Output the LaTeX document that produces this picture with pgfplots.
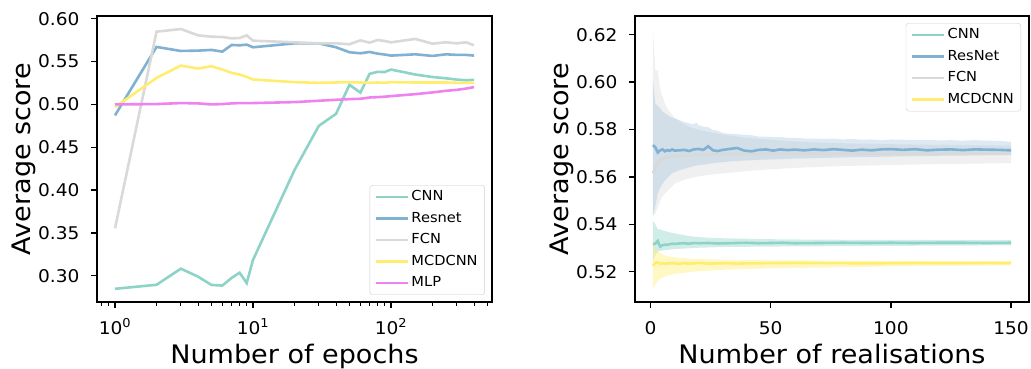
\documentclass[border=0pt]{standalone}
\usepackage{pgfplots}
\pgfplotsset{compat=1.18}
\usepackage{fontspec}
\setmainfont{DejaVu Sans}[FakeStretch=1.06]
\definecolor{cnn}{HTML}{8DD3C7}
\definecolor{resnet}{HTML}{80B1D3}
\definecolor{fcn}{HTML}{D9D9D9}
\definecolor{mcd}{HTML}{FFED6F}
\definecolor{mlp}{HTML}{EE82EE}
\newcommand{\tickfont}{\fontsize{17.5}{20}\selectfont}
\newcommand{\labfont}{\fontsize{25.5}{28}\selectfont}
\newcommand{\legfont}{\fontsize{13.8}{16}\selectfont}
\pgfplotsset{
  mystyle/.style={
    scale only axis,
    /pgf/number format/assume math mode=true,
    axis line style={line width=1.4pt},
    tick align=outside,
    xtick pos=left, ytick pos=left,
    major tick length=6pt, minor tick length=3.5pt,
    every tick/.style={black, line width=1.4pt},
    every minor tick/.style={black, line width=1pt},
    tick label style={font=\tickfont},
    xticklabel style={anchor=base, yshift=-26pt},
    yticklabel style={anchor=east, xshift=-8pt},
    label style={font=\labfont},
    legend cell align=left,
    legend image code/.code={\draw[##1, line width=2.6pt] (0pt,0pt) -- (32pt,0pt);},
    legend style={draw=black!20, rounded corners=3pt, fill=white, fill opacity=0.8, text opacity=1,
      font=\legfont, row sep=4pt, inner xsep=5pt, inner ysep=3pt,
      nodes={inner sep=2pt, text height=10.5pt, text depth=3pt}},
  },
  ln/.style={line width=2.6pt, #1},
}
\begin{document}
\begin{tikzpicture}
\useasboundingbox (0,0) rectangle (1031pt,368pt);
% ---------------- left panel ----------------
\begin{axis}[mystyle,
  at={(97pt,66pt)}, anchor=south west,
  width=395pt, height=286pt,
  xmode=log, xmin=0.7406, xmax=539.5,
  ymin=0.2694, ymax=0.6032,
  xtick={1,10,100},
  xticklabels={10\textsuperscript{0},10\textsuperscript{1},10\textsuperscript{2}},
  minor xtick={0.8,0.9,2,3,4,5,6,7,8,9,20,30,40,50,60,70,80,90,200,300,400,500},
  ytick={0.30,0.35,0.40,0.45,0.50,0.55,0.60},
  yticklabel style={/pgf/number format/fixed,/pgf/number format/fixed zerofill,/pgf/number format/precision=2},
  xlabel={Number of epochs},
  ylabel={Average score},
  xlabel style={at={(axis description cs:0.5,-0.2133)}, anchor=base},
  ylabel style={at={(axis description cs:-0.1671,0.5)}, anchor=base},
  legend style={at={(0.982,0.0245)}, anchor=south east},
]
\addplot[ln=cnn] coordinates {(1,0.2848)(2,0.2895)(3,0.3083)(4,0.2990)(5,0.2893)(6,0.2886)(7,0.2975)(8,0.3036)(9,0.2915)(10,0.3185)(20,0.4235)(30,0.4750)(40,0.4891)(50,0.5229)(60,0.5138)(70,0.5357)(80,0.5380)(90,0.5378)(100,0.5407)(150,0.5349)(200,0.5320)(250,0.5305)(300,0.5290)(350,0.5282)(400,0.5287)};
\addlegendentry{CNN}
\addplot[ln=resnet] coordinates {(1,0.4872)(2,0.5671)(3,0.5624)(4,0.5628)(5,0.5636)(6,0.5616)(7,0.5694)(8,0.5690)(9,0.5698)(10,0.5667)(20,0.5713)(30,0.5713)(40,0.5667)(50,0.5609)(60,0.5597)(70,0.5612)(80,0.5593)(90,0.5582)(100,0.5570)(150,0.5585)(200,0.5566)(250,0.5585)(300,0.5578)(350,0.5578)(400,0.5570)};
\addlegendentry{Resnet}
\addplot[ln=fcn] coordinates {(1,0.3554)(2,0.5849)(3,0.5880)(4,0.5806)(5,0.5791)(6,0.5787)(7,0.5771)(8,0.5775)(9,0.5806)(10,0.5744)(20,0.5725)(30,0.5713)(40,0.5713)(50,0.5702)(60,0.5748)(70,0.5721)(80,0.5752)(90,0.5740)(100,0.5725)(150,0.5764)(200,0.5709)(250,0.5725)(300,0.5713)(350,0.5725)(400,0.5690)};
\addlegendentry{FCN}
\addplot[ln=mcd] coordinates {(1,0.4969)(2,0.5310)(3,0.5453)(4,0.5419)(5,0.5446)(6,0.5407)(7,0.5368)(8,0.5349)(9,0.5322)(10,0.5291)(20,0.5260)(30,0.5252)(40,0.5256)(50,0.5260)(60,0.5256)(70,0.5252)(80,0.5256)(90,0.5252)(100,0.5260)(150,0.5256)(200,0.5256)(250,0.5256)(300,0.5252)(350,0.5252)(400,0.5252)};
\addlegendentry{MCDCNN}
\addplot[ln=mlp] coordinates {(1,0.5000)(2,0.5004)(3,0.5016)(4,0.5012)(5,0.5000)(6,0.5004)(7,0.5012)(8,0.5016)(9,0.5016)(10,0.5016)(20,0.5027)(30,0.5043)(40,0.5054)(50,0.5062)(60,0.5066)(70,0.5081)(80,0.5085)(90,0.5090)(100,0.5097)(150,0.5120)(200,0.5140)(250,0.5159)(300,0.5170)(350,0.5185)(400,0.5202)};
\addlegendentry{MLP}
\end{axis}
% ---------------- right panel ----------------
\begin{axis}[mystyle,
  at={(635pt,66pt)}, anchor=south west,
  width=394pt, height=286pt,
  xmin=-6.45, xmax=157.45,
  ymin=0.5072, ymax=0.6279,
  xtick={0,50,100,150},
  ytick={0.52,0.54,0.56,0.58,0.60,0.62},
  yticklabel style={/pgf/number format/fixed,/pgf/number format/fixed zerofill,/pgf/number format/precision=2},
  xlabel={Number of realisations},
  ylabel={Average score},
  xlabel style={at={(axis description cs:0.5,-0.2133)}, anchor=base},
  ylabel style={at={(axis description cs:-0.170,0.5)}, anchor=base},
  legend style={at={(0.9797,0.9755)}, anchor=north east},
]
% FCN band (upper edge, then lower edge reversed)
\addplot[draw=none, fill=fcn, fill opacity=0.4, forget plot] coordinates {(1,0.6224)(2,0.6050)(3,0.6049)(4,0.5970)(5,0.5940)(6,0.5910)(7,0.5890)(8,0.5875)(9,0.5862)(10,0.5850)(12,0.5835)(14,0.5822)(16,0.5812)(18,0.5805)(20,0.5800)(24,0.5790)(28,0.5782)(32,0.5776)(36,0.5770)(40,0.5765)(50,0.5757)(60,0.5750)(70,0.5745)(80,0.5742)(100,0.5738)(120,0.5735)(150,0.5732)
(150,0.5658)(120,0.5654)(100,0.5650)(80,0.5646)(70,0.5642)(60,0.5638)(50,0.5632)(40,0.5625)(36,0.5620)(32,0.5617)(28,0.5613)(24,0.5608)(20,0.5602)(18,0.5598)(16,0.5594)(14,0.5588)(12,0.5580)(10,0.5572)(9,0.5560)(8,0.5550)(7,0.5540)(6,0.5530)(5,0.5518)(4,0.5500)(3,0.5470)(2,0.5445)(1,0.5435)} -- cycle;
% ResNet band
\addplot[draw=none, fill=resnet, fill opacity=0.27, forget plot] coordinates {(1,0.6010)(2,0.5910)(3,0.5900)(4,0.5890)(5,0.5875)(6,0.5868)(7,0.5862)(8,0.5855)(9,0.5850)(10,0.5847)(12,0.5840)(14,0.5832)(16,0.5826)(18,0.5822)(19,0.5830)(20,0.5818)(22,0.5812)(24,0.5810)(26,0.5798)(28,0.5795)(30,0.5785)(33,0.5782)(36,0.5780)(39,0.5778)(42,0.5776)(45,0.5770)(48,0.5770)(51,0.5768)(54,0.5768)(57,0.5765)(60,0.5765)(64,0.5762)(68,0.5762)(72,0.5760)(76,0.5762)(80,0.5758)(84,0.5760)(88,0.5757)(92,0.5758)(96,0.5755)(100,0.5758)(105,0.5757)(110,0.5755)(115,0.5756)(120,0.5754)(125,0.5755)(130,0.5753)(135,0.5755)(140,0.5753)(145,0.5752)(150,0.5748)
(150,0.5693)(145,0.5692)(140,0.5692)(135,0.5691)(130,0.5690)(125,0.5690)(120,0.5689)(115,0.5688)(110,0.5688)(105,0.5687)(100,0.5686)(96,0.5685)(92,0.5684)(88,0.5684)(84,0.5683)(80,0.5682)(76,0.5681)(72,0.5680)(68,0.5679)(64,0.5678)(60,0.5677)(57,0.5676)(54,0.5675)(51,0.5674)(48,0.5673)(45,0.5672)(42,0.5670)(39,0.5669)(36,0.5667)(33,0.5665)(30,0.5662)(28,0.5660)(26,0.5658)(24,0.5655)(22,0.5652)(20,0.5650)(18,0.5645)(16,0.5640)(14,0.5634)(12,0.5628)(10,0.5620)(9,0.5615)(8,0.5605)(7,0.5595)(6,0.5585)(5,0.5570)(4,0.5555)(3,0.5530)(2,0.5475)(1,0.5435)} -- cycle;
% CNN band
\addplot[draw=none, fill=cnn, fill opacity=0.4, forget plot] coordinates {(1,0.5414)(2,0.5400)(3,0.5380)(4,0.5378)(5,0.5374)(6,0.5372)(8,0.5366)(10,0.5362)(12,0.5358)(15,0.5352)(20,0.5346)(25,0.5343)(30,0.5341)(40,0.5339)(50,0.5337)(70,0.5335)(100,0.5334)(150,0.5333)
(150,0.5311)(100,0.5309)(50,0.5306)(30,0.5304)(20,0.5301)(15,0.5298)(10,0.5295)(8,0.5293)(5,0.5290)(3,0.5285)(2,0.5270)(1,0.5245)} -- cycle;
% MCDCNN band
\addplot[draw=none, fill=mcd, fill opacity=0.4, forget plot] coordinates {(1,0.5344)(2,0.5300)(3,0.5285)(4,0.5280)(5,0.5275)(6,0.5268)(8,0.5264)(10,0.5260)(15,0.5256)(20,0.5253)(30,0.5250)(50,0.5248)(100,0.5246)(150,0.5244)
(150,0.5227)(100,0.5222)(80,0.5219)(50,0.5214)(30,0.5208)(20,0.5202)(15,0.5196)(10,0.5190)(8,0.5186)(6,0.5180)(4,0.5169)(3,0.5160)(2,0.5145)(1,0.5127)} -- cycle;
% mean lines
\addplot[ln=fcn, forget plot] coordinates {(1,0.5616)(2,0.5640)(3,0.5660)(4,0.5672)(5,0.5676)(6,0.5680)(7,0.5682)(8,0.5684)(9,0.5685)(10,0.5686)(12,0.5688)(14,0.5690)(16,0.5691)(18,0.5692)(20,0.5693)(25,0.5695)(30,0.5696)(40,0.5697)(60,0.5698)(80,0.5698)(100,0.5698)(120,0.5697)(150,0.5697)};
\addplot[ln=resnet, forget plot] coordinates {(1,0.5734)(2,0.5725)(3,0.5703)(4,0.5712)(5,0.5716)(6,0.5708)(7,0.5713)(8,0.5710)(9,0.5716)(10,0.5711)(12,0.5712)(14,0.5714)(16,0.5709)(18,0.5716)(20,0.5718)(22,0.5714)(24,0.5729)(26,0.5712)(28,0.5709)(30,0.5714)(33,0.5718)(36,0.5722)(39,0.5711)(42,0.5708)(45,0.5714)(48,0.5716)(51,0.5711)(54,0.5716)(57,0.5713)(60,0.5715)(64,0.5712)(68,0.5716)(72,0.5713)(76,0.5717)(80,0.5714)(84,0.5711)(88,0.5715)(92,0.5712)(96,0.5716)(100,0.5717)(105,0.5714)(110,0.5717)(115,0.5712)(120,0.5715)(125,0.5716)(130,0.5713)(135,0.5716)(140,0.5715)(145,0.5714)(150,0.5712)};
\addplot[ln=cnn, forget plot] coordinates {(1,0.5316)(2,0.5318)(3,0.5330)(4,0.5306)(5,0.5312)(6,0.5314)(7,0.5313)(8,0.5316)(9,0.5318)(10,0.5317)(12,0.5319)(14,0.5320)(16,0.5318)(18,0.5321)(20,0.5320)(24,0.5321)(28,0.5319)(32,0.5320)(36,0.5321)(40,0.5322)(45,0.5320)(50,0.5321)(55,0.5322)(60,0.5320)(70,0.5321)(80,0.5322)(90,0.5321)(100,0.5322)(110,0.5321)(120,0.5322)(130,0.5322)(140,0.5321)(150,0.5322)};
\addplot[ln=mcd, forget plot] coordinates {(1,0.5225)(2,0.5237)(3,0.5240)(4,0.5232)(5,0.5236)(6,0.5233)(7,0.5236)(8,0.5234)(9,0.5237)(10,0.5235)(12,0.5233)(14,0.5236)(16,0.5234)(18,0.5235)(20,0.5237)(24,0.5234)(28,0.5235)(32,0.5236)(36,0.5234)(40,0.5235)(50,0.5236)(60,0.5237)(70,0.5236)(80,0.5236)(90,0.5235)(100,0.5236)(110,0.5237)(120,0.5236)(130,0.5236)(140,0.5237)(150,0.5236)};
\addlegendimage{ln=cnn}\addlegendentry{CNN}
\addlegendimage{ln=resnet}\addlegendentry{ResNet}
\addlegendimage{ln=fcn}\addlegendentry{FCN}
\addlegendimage{ln=mcd}\addlegendentry{MCDCNN}
\end{axis}
\end{tikzpicture}
\end{document}
